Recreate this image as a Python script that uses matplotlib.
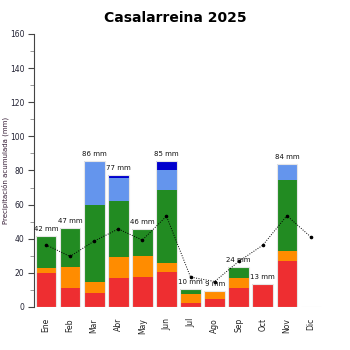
import numpy as np
import matplotlib.pyplot as plt

# Casalarreina 2025 - monthly precipitation, stacked by period
months = ['Ene', 'Feb', 'Mar', 'Abr', 'May', 'Jun', 'Jul', 'Ago', 'Sep', 'Oct', 'Nov', 'Dic']

# stacked segments (mm), bottom to top
red = [19.7, 11.3, 8.2, 17.2, 17.8, 20.5, 2.5, 4.9, 11.3, 13.3, 27.0, 0]
orange = [3.3, 12.3, 6.4, 12.3, 12.1, 5.3, 5.3, 4.5, 5.9, 0.4, 5.8, 0]
green = [18.8, 22.9, 45.2, 32.6, 15.8, 42.8, 2.7, 0, 6.4, 0, 41.8, 0]
lightblue = [0, 0, 26.0, 13.7, 0, 11.7, 0, 0, 0, 0, 9.2, 0]
darkblue = [0, 0, 0, 1.4, 0, 5.5, 0, 0, 0, 0, 0, 0]
totals = [42, 47, 86, 77, 46, 85, 10, 9, 24, 13, 84, None]

# average line
average = [36.4, 29.6, 38.6, 45.7, 39.2, 53.2, 17.5, 14.9, 26.7, 36.2, 53.5, 40.9]

x = np.arange(len(months))
w = 0.86

fig = plt.figure(figsize=(3.5, 3.5), dpi=100)
ax = fig.add_axes([0.097, 0.123, 0.826, 0.78])

segments = [(red, '#ee2e31'), (orange, '#ff8c00'), (green, '#228b22'),
            (lightblue, '#6495ed'), (darkblue, '#0000cd')]
bottom = np.zeros(len(months))
for vals, col in segments:
    vals = np.array(vals, dtype=float)
    ax.bar(x, vals, w, bottom=bottom, color=col, linewidth=0, zorder=2)
    bottom += vals

# light outline round each stack
ax.bar(x, bottom, w, facecolor='none', edgecolor='#e6e6e6', linewidth=0.8, zorder=3)

for xi, top, t in zip(x, bottom, totals):
    if t is None:
        continue
    ax.text(xi, top + 2.2, f'{t} mm', ha='center', va='bottom', fontsize=5, color='#111111', zorder=5)

ax.plot(x, average, color='black', linestyle=(0, (1, 1.5)), linewidth=0.7,
        marker='o', markersize=1.6, zorder=4)

ax.set_xlim(-0.5, 11.5)
ax.set_ylim(0, 160)
ax.set_yticks(np.arange(0, 161, 20))
ax.set_yticks(np.arange(10, 160, 20), minor=True)
ax.tick_params(axis='y', which='major', length=4, width=0.8, color='#444444', labelsize=5.5, pad=3,
               labelcolor='#222233')
ax.tick_params(axis='y', which='minor', length=3, width=0.6, color='#888888')
ax.set_xticks(x)
ax.set_xticklabels(months, rotation=90, fontsize=5.5, color='#222222')
ax.tick_params(axis='x', length=0, pad=8)

for s in ['top', 'right', 'bottom']:
    ax.spines[s].set_visible(False)
ax.spines['left'].set_color('#444444')
ax.spines['left'].set_linewidth(0.8)

ax.set_ylabel('Precipitación acumulada (mm)', fontsize=5, color='#331a33')
ax.yaxis.set_label_coords(-0.085, 0.5)
fig.text(0.5, 0.948, 'Casalarreina 2025', ha='center', va='center', fontsize=10, fontweight='bold')

fig.savefig('out.png', dpi=100)
